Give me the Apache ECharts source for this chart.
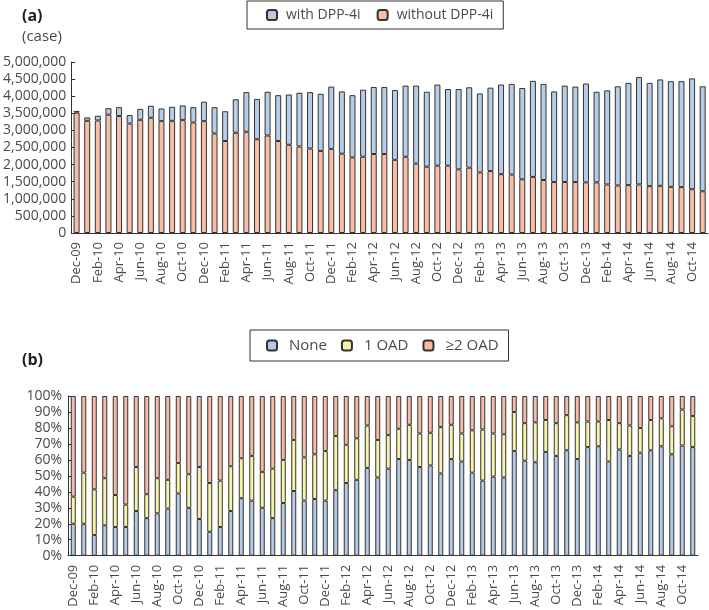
<!DOCTYPE html>
<html>
<head>
<meta charset="utf-8">
<script src="https://cdn.jsdelivr.net/npm/echarts@6/dist/echarts.min.js"></script>
<style>
  html, body { margin: 0; padding: 0; background: #fff; }
  #main { width: 709px; height: 610px; }
</style>
</head>
<body>
<div id="main"></div>
<script>
// month labels, Dec-09 .. Nov-14
const months = [
  "Dec-09",
  "Jan-10", "Feb-10", "Mar-10", "Apr-10", "May-10", "Jun-10", "Jul-10", "Aug-10", "Sep-10", "Oct-10", "Nov-10", "Dec-10",
  "Jan-11", "Feb-11", "Mar-11", "Apr-11", "May-11", "Jun-11", "Jul-11", "Aug-11", "Sep-11", "Oct-11", "Nov-11", "Dec-11",
  "Jan-12", "Feb-12", "Mar-12", "Apr-12", "May-12", "Jun-12", "Jul-12", "Aug-12", "Sep-12", "Oct-12", "Nov-12", "Dec-12",
  "Jan-13", "Feb-13", "Mar-13", "Apr-13", "May-13", "Jun-13", "Jul-13", "Aug-13", "Sep-13", "Oct-13", "Nov-13", "Dec-13",
  "Jan-14", "Feb-14", "Mar-14", "Apr-14", "May-14", "Jun-14", "Jul-14", "Aug-14", "Sep-14", "Oct-14", "Nov-14"
];

// (a) number of cases
const withoutDpp = [
  3520000,
  3280000, 3290000, 3460000, 3420000, 3200000, 3310000, 3370000, 3270000, 3280000, 3300000, 3230000, 3270000,
  2910000, 2690000, 2930000, 2960000, 2740000, 2850000, 2690000, 2580000, 2530000, 2470000, 2400000, 2460000,
  2320000, 2210000, 2230000, 2310000, 2310000, 2140000, 2230000, 2030000, 1940000, 1970000, 1970000, 1860000,
  1910000, 1770000, 1810000, 1720000, 1710000, 1570000, 1640000, 1550000, 1490000, 1490000, 1490000, 1480000,
  1480000, 1420000, 1390000, 1400000, 1420000, 1370000, 1380000, 1350000, 1340000, 1280000, 1220000
];
const withDpp = [
  50000,
  100000, 140000, 190000, 260000, 250000, 320000, 350000, 370000, 410000, 430000, 450000, 570000,
  770000, 870000, 980000, 1160000, 1180000, 1280000, 1340000, 1470000, 1570000, 1650000, 1670000, 1820000,
  1820000, 1820000, 1960000, 1960000, 1960000, 2040000, 2080000, 2280000, 2190000, 2370000, 2240000, 2350000,
  2350000, 2310000, 2440000, 2620000, 2650000, 2670000, 2810000, 2810000, 2650000, 2820000, 2790000, 2890000,
  2650000, 2750000, 2900000, 2990000, 3140000, 3020000, 3110000, 3090000, 3100000, 3240000, 3070000
];

// (b) share of patients (%)
const noneOad = [
  20,
  20, 13, 19, 18, 18, 28, 23.5, 26.5, 29.5, 39, 30, 23,
  15, 18, 28, 36, 34.5, 30, 23.5, 33, 40.5, 34.5, 35.5, 34.5,
  41, 45.5, 47.5, 55, 49, 54.5, 60.5, 60, 55.5, 56.5, 51.5, 60.5,
  59, 52, 47, 49.5, 49, 65.5, 59.5, 58.5, 65, 62.5, 66, 60.5,
  68, 68.5, 59, 66.5, 62.5, 64.5, 66, 68.5, 63.5, 69, 68
];
const oneOad = [
  17,
  32, 28.5, 29.5, 20, 14, 27.5, 15, 22, 18, 19, 21, 32.5,
  30.5, 29, 28, 25, 28, 22.5, 31, 27, 32, 27, 28, 31,
  34, 24, 26, 26.5, 23.5, 21, 19, 22, 21, 20.5, 29, 21.5,
  17.5, 26.5, 32, 27, 27, 24.5, 23.5, 25, 20, 20.5, 22, 23,
  16, 15.5, 26, 16.5, 19, 15.5, 19, 17.5, 17.5, 22.5, 19.5
];
const twoPlusOad = [
  63,
  48, 58.5, 51.5, 62, 68, 44.5, 61.5, 51.5, 52.5, 42, 49, 44.5,
  54.5, 53, 44, 39, 37.5, 47.5, 45.5, 40, 27.5, 38.5, 36.5, 34.5,
  25, 30.5, 26.5, 18.5, 27.5, 24.5, 20.5, 18, 23.5, 23, 19.5, 18,
  23.5, 21.5, 21, 23.5, 24, 10, 17, 16.5, 15, 17, 12, 16.5,
  16, 16, 15, 17, 18.5, 20, 15, 14, 19, 8.5, 12.5
];

const textColor = "#4a4a4a";
const lineColor = "#333";
const font = "'Open Sans', 'DejaVu Sans', sans-serif";

const myChart = echarts.init(document.getElementById("main"));

const catAxis = (gridIndex) => ({
  type: "category",
  gridIndex: gridIndex,
  data: months,
  axisLine: { lineStyle: { color: lineColor, width: 1 } },
  axisTick: { show: false },
  axisLabel: {
    rotate: 90,
    interval: 1,
    fontSize: 13,
    color: textColor,
    fontFamily: font,
    margin: 9,
  },
});

const option = {
  animation: false,
  textStyle: { fontFamily: font },
  title: [
    { text: "(a)", left: 17, top: 3, textStyle: { fontSize: 16, fontWeight: "bold", color: "#222" } },
    { text: "(case)", left: 17, top: 24, textStyle: { fontSize: 15, fontWeight: "normal", color: textColor } },
    { text: "(b)", left: 17, top: 347, textStyle: { fontSize: 16, fontWeight: "bold", color: "#222" } },
  ],
  legend: [
    {
      data: ["with DPP-4i", "without DPP-4i"],
      left: 247,
      top: 1,
      padding: [7, 10, 7, 19],
      itemGap: 16,
      itemWidth: 10,
      itemHeight: 10,
      borderColor: lineColor,
      borderWidth: 1,
      textStyle: { fontSize: 14, color: textColor, padding: [0, 0, 0, 4] },
    },
    {
      data: ["None", "1 OAD", "≥2 OAD"],
      left: 250,
      top: 330,
      padding: [8, 10, 8, 16],
      itemGap: 14,
      itemWidth: 10,
      itemHeight: 10,
      borderColor: lineColor,
      borderWidth: 1,
      textStyle: { fontSize: 15, color: textColor, padding: [0, 0, 0, 7] },
    },
  ],
  grid: [
    { left: 68, top: 62, width: 640, height: 171 },
    { left: 68, top: 396, width: 630, height: 162 },
  ],
  xAxis: [catAxis(0), catAxis(1)],
  yAxis: [
    {
      type: "value",
      gridIndex: 0,
      min: 0,
      max: 5000000,
      interval: 500000,
      splitLine: { show: false },
      axisLine: { show: true, lineStyle: { color: lineColor } },
      axisTick: { show: true, inside: true, length: 4, lineStyle: { color: lineColor } },
      axisLabel: {
        fontSize: 14,
        color: textColor,
        margin: 5,
        formatter: (v) => v.toLocaleString("en-US"),
      },
    },
    {
      type: "value",
      gridIndex: 1,
      min: 0,
      max: 100,
      interval: 10,
      splitLine: { show: false },
      axisLine: { show: true, lineStyle: { color: lineColor } },
      axisTick: { show: true, inside: true, length: 4, lineStyle: { color: lineColor } },
      axisLabel: { fontSize: 14, color: textColor, margin: 6, formatter: "{value}%" },
    },
  ],
  series: [
    {
      name: "without DPP-4i",
      type: "bar",
      stack: "a",
      xAxisIndex: 0,
      yAxisIndex: 0,
      barWidth: 6,
      data: withoutDpp,
      itemStyle: { color: "#f8bea5", borderColor: lineColor, borderWidth: 1 },
    },
    {
      name: "with DPP-4i",
      type: "bar",
      stack: "a",
      xAxisIndex: 0,
      yAxisIndex: 0,
      barWidth: 6,
      data: withDpp,
      itemStyle: { color: "#b7cce5", borderColor: lineColor, borderWidth: 1 },
    },
    {
      name: "None",
      type: "bar",
      stack: "b",
      xAxisIndex: 1,
      yAxisIndex: 1,
      barWidth: 5,
      data: noneOad,
      itemStyle: { color: "#b5cae4", borderColor: lineColor, borderWidth: 1 },
    },
    {
      name: "1 OAD",
      type: "bar",
      stack: "b",
      xAxisIndex: 1,
      yAxisIndex: 1,
      barWidth: 5,
      data: oneOad,
      itemStyle: { color: "#f6f3a8", borderColor: lineColor, borderWidth: 1 },
    },
    {
      name: "≥2 OAD",
      type: "bar",
      stack: "b",
      xAxisIndex: 1,
      yAxisIndex: 1,
      barWidth: 5,
      data: twoPlusOad,
      itemStyle: { color: "#f6baa6", borderColor: lineColor, borderWidth: 1 },
    },
  ],
};

myChart.setOption(option);
</script>
</body>
</html>
